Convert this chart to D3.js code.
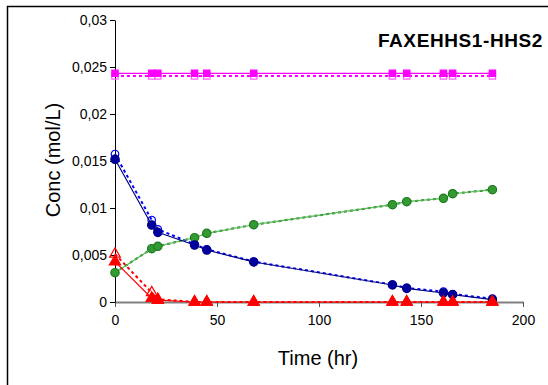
<!DOCTYPE html>
<html>
<head>
<meta charset="utf-8">
<script src="https://cdn.jsdelivr.net/npm/d3@7"></script>
<style>
  body { margin: 0; background: #fff; }
  text { font-family: "Liberation Sans", Arial, sans-serif; fill: #000; }
</style>
</head>
<body>
<div id="chart"></div>
<script>
// Sampling times (hr)
var times = [0, 18, 21, 39, 45, 68, 136, 143, 161, 165.5, 185];

// Pink squares
var pinkFilled = [0.02433, 0.02433, 0.02433, 0.02433, 0.02433, 0.02433, 0.02433, 0.02433, 0.02433, 0.02433, 0.02433];
var pinkOpen   = [0.02405, 0.02405, 0.02405, 0.02405, 0.02405, 0.02405, 0.02405, 0.02405, 0.02405, 0.02405, 0.02405];
// Blue circles
var blueFilled = [0.01518, 0.00819, 0.00741, 0.00606, 0.00553, 0.00426, 0.00181, 0.00145, 0.00096, 0.00078, 0.00025];
var blueOpen   = [0.01574, 0.00872, 0.00773, 0.00615, 0.00560, 0.00430, 0.00185, 0.00150, 0.00110, 0.00085, 0.00035];
// Green circles
var greenFilled = [0.00312, 0.00567, 0.00593, 0.00684, 0.00731, 0.00822, 0.01035, 0.01067, 0.01103, 0.01152, 0.01195];
var greenOpen   = [0.00312, 0.00567, 0.00593, 0.00684, 0.00731, 0.00822, 0.01035, 0.01067, 0.01103, 0.01152, 0.01195];
// Red triangles
var redFilled = [0.00429, 0.00040, 0.00020, 0, 0, 0, 0, 0, 0, 0, 0];
var redOpen   = [0.00510, 0.00100, 0.00030, 0, 0, 0, 0, 0, 0, 0, 0];

var xTicks = [0, 50, 100, 150, 200];
var yTicks = [0, 0.005, 0.01, 0.015, 0.02, 0.025, 0.03];

var svgWidth = 548, svgHeight = 385;
var margin = { top: 20, right: 25, bottom: 83, left: 115 };
var chartWidth = svgWidth - margin.left - margin.right;
var chartHeight = svgHeight - margin.top - margin.bottom;

var svg = d3.select("#chart").append("svg")
  .attr("width", svgWidth)
  .attr("height", svgHeight);

// outer frame (only top/left visible)
svg.append("rect")
  .attr("x", 7.5).attr("y", 6.5)
  .attr("width", 600).attr("height", 600)
  .attr("fill", "none").attr("stroke", "#000").attr("stroke-width", 1.5);

var chartGroup = svg.append("g")
  .attr("transform", `translate(${margin.left}, ${margin.top})`);

var xScale = d3.scaleLinear().domain([0, 200]).range([0, chartWidth]);
var yScale = d3.scaleLinear().domain([0, 0.03]).range([chartHeight, 0]);

var fmt = d => d === 0 ? "0" : String(d).replace(".", ",");

// x axis (gray line)
var xAxis = chartGroup.append("g")
  .attr("transform", `translate(0, ${chartHeight})`)
  .call(d3.axisBottom(xScale).tickValues(xTicks).tickSize(5).tickSizeOuter(0).tickPadding(8));
xAxis.select(".domain").attr("stroke", "#808080").attr("stroke-width", 2);
xAxis.selectAll(".tick line").attr("stroke", "#555");
xAxis.selectAll("text").style("font-size", "14px").attr("fill", "#000");

// y axis
var yAxis = chartGroup.append("g")
  .call(d3.axisLeft(yScale).tickValues(yTicks).tickFormat(fmt).tickSize(5).tickSizeOuter(0).tickPadding(3));
yAxis.select(".domain").attr("stroke", "#000");
yAxis.selectAll("text").style("font-size", "14px").attr("fill", "#000");

function pts(vals) {
  return times.map((t, i) => ({ t: t, v: vals[i] }));
}

var line = d3.line().x(d => xScale(d.t)).y(d => yScale(d.v));

function drawLine(vals, color, dashed, width) {
  chartGroup.append("path")
    .datum(pts(vals))
    .attr("d", line)
    .attr("fill", "none")
    .attr("stroke", color)
    .attr("stroke-width", width)
    .attr("stroke-dasharray", dashed ? "3,3" : null);
}

function drawMarkers(vals, type, fill, stroke, size) {
  chartGroup.append("g").selectAll("path")
    .data(pts(vals))
    .enter()
    .append("path")
    .attr("transform", d => `translate(${xScale(d.t)}, ${yScale(d.v)})`)
    .attr("d", d3.symbol().type(type).size(size))
    .attr("fill", fill)
    .attr("stroke", stroke)
    .attr("stroke-width", 1.2);
}

// dotted (open marker) series
drawLine(pinkOpen, "#ff00ff", true, 2);
drawMarkers(pinkOpen, d3.symbolSquare, "none", "#ff66ff", 40);
drawLine(greenOpen, "#008000", true, 2);
drawLine(blueOpen, "#0000ff", true, 2);
drawMarkers(blueOpen, d3.symbolCircle, "none", "#0000ff", 45);
drawLine(redOpen, "#ff0000", true, 2);
drawMarkers(redOpen, d3.symbolTriangle, "none", "#ff0000", 50);

// solid (filled marker) series
drawLine(pinkFilled, "#ff00ff", false, 1.2);
drawMarkers(pinkFilled, d3.symbolSquare, "#ff00ff", "#ff00ff", 40);
drawLine(greenFilled, "#5cb85c", false, 1.2);
drawMarkers(greenFilled, d3.symbolCircle, "#339933", "#1e7a1e", 55);
drawLine(blueFilled, "#000080", false, 1.2);
drawMarkers(blueFilled, d3.symbolCircle, "#0000a0", "#000080", 55);
drawLine(redFilled, "#ff0000", false, 1.2);
drawMarkers(redFilled, d3.symbolTriangle, "#ff0000", "#ff0000", 55);

// title
chartGroup.append("text")
  .attr("x", 543 - margin.left)
  .attr("y", 47 - margin.top)
  .attr("text-anchor", "end")
  .style("font-size", "19px")
  .style("font-weight", "bold")
  .style("letter-spacing", "0.6px")
  .text("FAXEHHS1-HHS2");

// axis titles
svg.append("text")
  .attr("x", 318)
  .attr("y", 365)
  .attr("text-anchor", "middle")
  .style("font-size", "20px")
  .text("Time (hr)");

svg.append("text")
  .attr("transform", "rotate(-90)")
  .attr("x", -160)
  .attr("y", 60)
  .attr("text-anchor", "middle")
  .style("font-size", "20px")
  .text("Conc (mol/L)");
</script>
</body>
</html>
